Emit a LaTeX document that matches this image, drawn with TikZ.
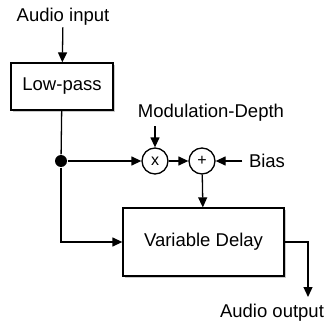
\documentclass[tikz,border=0pt]{standalone}
\usepackage{fontspec}
\setmainfont{Liberation Sans}
\usetikzlibrary{arrows.meta,shadows}

\begin{document}
\begin{tikzpicture}
[x=1pt, y=-1pt, line width=1.3pt, >={Triangle[length=10pt,width=9pt]},
 every node/.style={font=\fontsize{18.5}{21}\selectfont},
 block/.style={rectangle, draw, fill=white, drop shadow={shadow xshift=2pt, shadow yshift=-2pt, fill=black!35, opacity=.6}},
 op/.style={circle, draw, fill=white, minimum size=26pt, inner sep=0pt, font=\fontsize{16}{17}\selectfont},
 label/.style={inner sep=1pt}]
\useasboundingbox (0,0) rectangle (326,326);

\node[label] (in) at (63,17) {Audio input};
\node[block, minimum width=102pt, minimum height=47pt] (lowpass) at (62,86.5) {Low-pass};
\node[circle, fill, inner sep=0pt, minimum size=12pt] (split) at (61,161) {};
\node[op] (mult) at (155,161) {x};
\node[op] (add) at (202,161) {+};
\node[label] (depth) at (211,113) {Modulation-Depth};
\node[label] (bias) at (267,161) {Bias};
\node[block, minimum width=161pt, minimum height=68pt] (delay) at (203.5,242) {Variable Delay};
\node[label] (out) at (272,313) {Audio output};
\coordinate (outend) at (308,297);

\draw (lowpass) -- (split);
\foreach \from/\to in {in/lowpass,split/mult,mult/add,add/delay}
	\draw[->] (\from) -- (\to);
\draw[->] (mult |- depth.south) ++(0,3) -- (mult);
\draw[->] (bias.west) ++(-5,0) -- (add);
\draw[->] (split) |- (delay.west);
\draw[->] (delay.east) -| (outend);

\end{tikzpicture}
\end{document}
